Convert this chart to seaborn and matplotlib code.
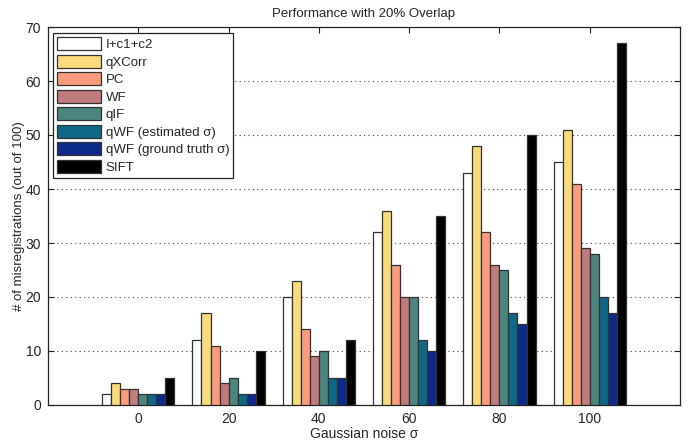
import matplotlib
matplotlib.use("Agg")
import matplotlib.pyplot as plt
import pandas as pd
import seaborn as sns

SIGMAS = [0, 20, 40, 60, 80, 100]
METHODS = ["I+c1+c2", "qXCorr", "PC", "WF", "qIF",
           "qWF (estimated σ)", "qWF (ground truth σ)", "SIFT"]
COLORS = ["#FFFFFF", "#FADB7C", "#FA9A7E", "#C07B7C", "#4C8580",
          "#0D6886", "#0B2A8A", "#000000"]

I_C1_C2 = [2, 12, 20, 32, 43, 45]
QXCORR = [4, 17, 23, 36, 48, 51]
PC = [3, 11, 14, 26, 32, 41]
WF = [3, 4, 9, 20, 26, 29]
QIF = [2, 5, 10, 20, 25, 28]
QWF_EST = [2, 2, 5, 12, 17, 20]
QWF_GT = [2, 2, 5, 10, 15, 17]
SIFT = [5, 10, 12, 35, 50, 67]

SERIES = [I_C1_C2, QXCORR, PC, WF, QIF, QWF_EST, QWF_GT, SIFT]

rows = []
for method, vals in zip(METHODS, SERIES):
    for s, v in zip(SIGMAS, vals):
        rows.append({"sigma": s, "count": v, "method": method})
df = pd.DataFrame(rows)

sns.set_theme(style="ticks")
plt.rcParams["font.family"] = ["Liberation Sans", "DejaVu Sans"]

fig = plt.figure(figsize=(6.93, 4.43), dpi=100)
ax = fig.add_axes([48 / 693, 38 / 443, 632 / 693, 378 / 443])

sns.barplot(
    data=df, x="sigma", y="count", hue="method",
    order=SIGMAS, hue_order=METHODS, palette=COLORS, saturation=1,
    width=0.8, edgecolor="#333333", linewidth=0.9,
    errorbar=None, ax=ax, zorder=3,
)

ax.set_xlim(-1, 6)
ax.set_ylim(0, 70)
ax.set_yticks(range(0, 71, 10))
ax.set_xticks(range(len(SIGMAS)))
ax.set_xticklabels([str(s) for s in SIGMAS])
ax.yaxis.grid(True, linestyle=(0, (1, 3)), color="#444444", linewidth=0.8, zorder=0)
ax.xaxis.grid(False)
for sp in ax.spines.values():
    sp.set_visible(True)
    sp.set_color("#222222")
    sp.set_linewidth(0.9)
ax.tick_params(direction="in", top=True, right=True, length=4, width=0.8,
               labelsize=10, color="#222222", pad=5)

ax.set_title("Performance with 20% Overlap", fontsize=9.5, pad=7)
ax.set_xlabel("Gaussian noise σ", fontsize=10, labelpad=1)
ax.set_ylabel("# of misregistrations (out of 100)", fontsize=9.5, labelpad=0)

leg = ax.legend(
    loc="upper left", bbox_to_anchor=(0.008, 0.983), fontsize=9.5,
    frameon=True, fancybox=False, edgecolor="#222222", framealpha=1,
    handlelength=3.3, handleheight=1.1, handletextpad=0.4,
    labelspacing=0.28, borderpad=0.3, borderaxespad=0,
)
leg.get_frame().set_linewidth(0.9)

fig.savefig("out.png", dpi=100)
